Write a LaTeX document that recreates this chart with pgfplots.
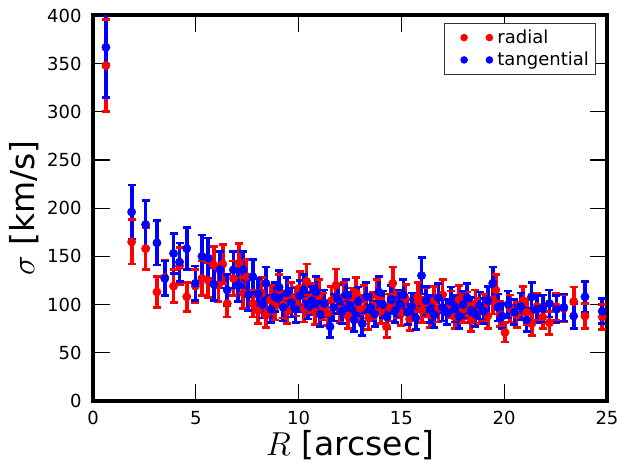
\documentclass[border=0pt]{standalone}
\usepackage{fontspec}
\setmainfont{DejaVu Sans}
\usepackage{pgfplots}
\pgfplotsset{compat=1.18}
\usepackage{pgfplotstable}

\pgfplotstableread{
x y e
0.63 348 48
1.88 165 23
2.56 158 22
3.11 113 16
3.49 128 18
3.92 119 17
4.21 140 19
4.56 108 15
4.98 119 17
5.30 127 18
5.61 125 18
5.88 141 19
6.10 120 17
6.31 142 20
6.53 101 14
6.83 127 18
7.10 143 20
7.31 112 16
7.47 129 18
7.77 101 14
8.04 94 14
8.20 112 16
8.41 89 13
8.65 105 15
8.85 98 14
9.05 115 16
9.25 100 14
9.45 93 13
9.65 108 15
9.85 103 15
10.05 117 17
10.25 96 14
10.39 124 18
10.60 107 15
10.80 92 13
11.00 110 16
11.20 98 14
11.40 91 13
11.60 104 15
11.82 120 17
12.00 95 14
12.20 108 15
12.40 88 13
12.60 102 15
12.80 112 16
13.00 96 14
13.20 105 15
13.40 86 12
13.60 99 14
13.80 110 16
14.00 93 13
14.28 77 11
14.40 97 14
14.58 122 17
14.80 100 14
15.00 91 13
15.20 106 15
15.40 85 12
15.60 98 14
15.80 108 15
16.00 94 13
16.20 102 15
16.40 89 13
16.60 104 15
16.80 96 14
17.00 110 16
17.20 92 13
17.40 100 14
17.60 87 12
17.80 105 15
18.00 95 14
18.20 99 14
18.40 84 12
18.60 101 14
18.80 93 13
19.00 97 14
19.20 88 13
19.44 105 15
19.59 115 16
19.80 90 13
20.04 71 10
20.30 96 14
20.60 89 13
20.93 104 15
21.10 92 13
21.34 80 12
21.60 98 14
21.87 87 12
22.20 81 12
22.54 98 14
22.90 96 14
23.38 103 15
23.93 88 13
24.77 87 13
}\radial

\pgfplotstableread{
x y e
0.63 367 52
1.88 196 28
2.56 183 25
3.11 164 23
3.49 127 18
3.92 153 21
4.21 144 20
4.56 158 22
4.98 122 18
5.30 150 22
5.61 148 21
5.88 121 17
6.18 136 19
6.53 115 16
6.83 136 19
7.05 120 17
7.31 136 19
7.55 110 16
7.77 129 18
8.04 111 16
8.25 100 14
8.41 122 17
8.65 95 14
8.85 108 15
9.05 118 17
9.25 97 14
9.45 112 16
9.65 102 15
9.85 95 14
10.05 109 16
10.25 115 16
10.45 99 14
10.65 104 15
10.85 113 16
11.05 90 13
11.25 101 14
11.53 77 11
11.70 97 14
11.90 106 15
12.10 93 13
12.30 110 16
12.50 99 14
12.70 84 12
12.90 103 15
13.10 80 12
13.30 108 15
13.50 97 14
13.70 90 13
13.90 113 16
14.10 100 14
14.30 87 12
14.50 105 15
14.70 94 13
14.90 101 14
15.10 110 16
15.30 92 13
15.50 98 14
15.70 86 12
15.98 130 19
16.20 104 15
16.40 95 14
16.60 89 13
16.80 107 15
17.00 97 14
17.20 92 13
17.40 103 15
17.60 96 14
17.80 88 13
18.00 100 14
18.20 107 15
18.40 94 13
18.60 90 13
18.80 99 14
19.00 93 13
19.20 104 15
19.44 122 17
19.70 97 14
19.90 88 13
20.20 100 14
20.50 92 13
20.80 98 14
21.09 84 12
21.33 108 15
21.60 95 14
21.87 96 14
22.20 101 14
22.54 95 14
22.90 97 14
23.38 88 13
23.93 108 16
24.77 93 13
}\tangential

\pgfplotsset{
  bars/.style={only marks, mark=none, forget plot,
    error bars/.cd, y dir=both, y explicit, error mark=none,
    error bar style={line width=2.8pt, #1}},
  caps/.style={#1, only marks, mark=-, mark size=3pt, forget plot,
    mark options={draw=#1, line width=2pt}},
}

\begin{document}
\begin{tikzpicture}
\begin{axis}[
  scale only axis, width=385.5pt, height=289pt,
  xmin=0, xmax=25, ymin=0, ymax=400,
  xtick={0,5,...,25}, ytick={0,50,...,400},
  /pgf/number format/assume math mode=true,
  tick label style={font=\fontsize{13.5}{16}\selectfont},
  xticklabel style={yshift=-4pt},
  yticklabel style={xshift=-5pt},
  axis line style={line width=3pt},
  tick align=inside, major tick length=12.75pt,
  tick style={line width=0.9pt, black},
  xlabel={$R$ [arcsec]}, ylabel={$\sigma$ [km/s]},
  label style={font=\fontsize{24.75}{30}\selectfont},
  xlabel style={at={(axis description cs:0.5,-0.114)}, anchor=center},
  ylabel style={at={(axis description cs:-0.134,0.5)}, anchor=center},
  legend style={at={(0.9786,0.9813)}, anchor=north east, draw=black!80, line width=0.6pt,
    font=\fontsize{13.5}{16}\selectfont, row sep=1pt, inner ysep=3pt},
  legend cell align=left,
]
\coordinate (bbl) at (rel axis cs:-0.1809,-0.1608);
\coordinate (btr) at (rel axis cs:1.0253,1.0402);

\addplot[red, bars=red] table[x=x, y=y, y error=e]{\radial};
\addplot[caps=red] table[x=x, y expr=\thisrow{y}+\thisrow{e}]{\radial};
\addplot[caps=red] table[x=x, y expr=\thisrow{y}-\thisrow{e}]{\radial};
\addplot[blue, bars=blue] table[x=x, y=y, y error=e]{\tangential};
\addplot[caps=blue] table[x=x, y expr=\thisrow{y}+\thisrow{e}]{\tangential};
\addplot[caps=blue] table[x=x, y expr=\thisrow{y}-\thisrow{e}]{\tangential};

\addplot[red, only marks, mark=*, mark size=3.1pt, mark options={draw=red, fill=red},
  legend image code/.code={\path[draw=none, fill=none] (-12pt,0pt) rectangle (23pt,0.1pt); \fill[red] (0pt,0pt) circle (2.5pt); \fill[red] (19pt,0pt) circle (2.5pt);}]
  table[x=x, y=y]{\radial};
\addlegendentry{radial}
\addplot[blue, only marks, mark=*, mark size=3.1pt, mark options={draw=blue, fill=blue},
  legend image code/.code={\path[draw=none, fill=none] (-12pt,0pt) rectangle (23pt,0.1pt); \fill[blue] (0pt,0pt) circle (2.5pt); \fill[blue] (19pt,0pt) circle (2.5pt);}]
  table[x=x, y=y]{\tangential};
\addlegendentry{tangential}
\end{axis}
\pgfresetboundingbox
\path[use as bounding box] (bbl) rectangle (btr);
\end{tikzpicture}
\end{document}
